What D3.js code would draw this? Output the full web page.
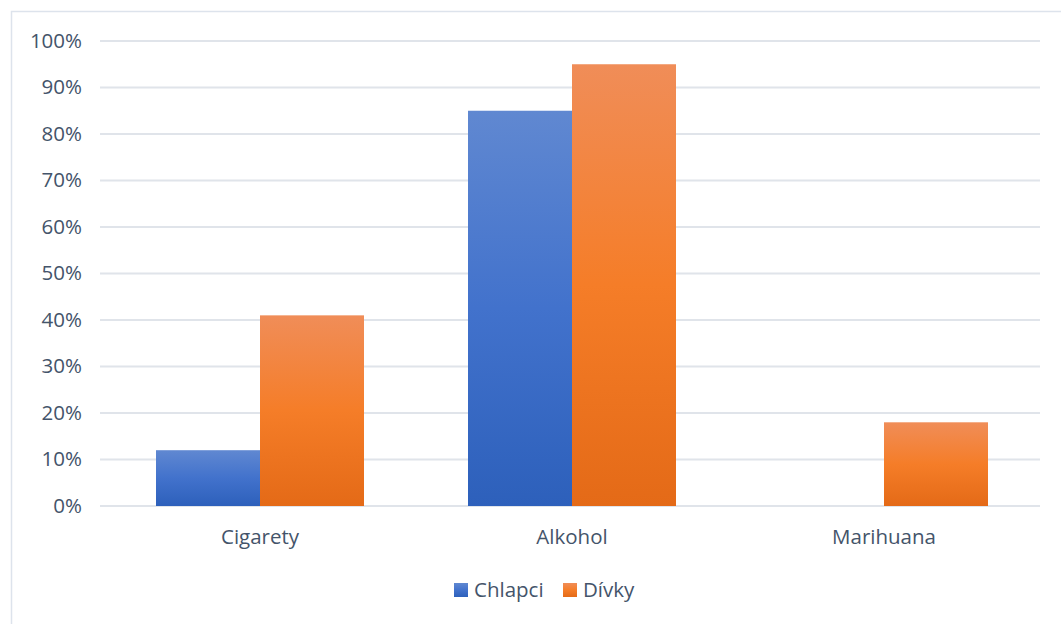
<!DOCTYPE html>
<html>
<head>
<meta charset="utf-8">
<script src="https://cdn.jsdelivr.net/npm/d3@7"></script>
<style>
  html, body { margin: 0; padding: 0; background: #fff; }
  svg { display: block; }
  text { font-family: "Open Sans", "Noto Sans", sans-serif; fill: #44546a; }
</style>
</head>
<body>
<svg id="chart" width="1061" height="624"></svg>
<script>
// Data: share of respondents by substance
const categories = ["Cigarety", "Alkohol", "Marihuana"];
const seriesNames = ["Chlapci", "Dívky"];
const chlapci = [0.12, 0.85, 0.0];
const divky = [0.41, 0.95, 0.18];
const yTicks = [0, 0.1, 0.2, 0.3, 0.4, 0.5, 0.6, 0.7, 0.8, 0.9, 1.0];

const seriesValues = [chlapci, divky];
const fontSize = 20.5;

const svg = d3.select("#chart");
const width = 1061, height = 624;
const plot = { left: 104, right: 1040, top: 41, bottom: 506 };

// Outer frame
svg.append("rect")
  .attr("x", 11.5).attr("y", 11.5)
  .attr("width", width + 20).attr("height", height + 20)
  .attr("fill", "#fff").attr("stroke", "#dde3ec").attr("stroke-width", 1.5);

// Gradients
const defs = svg.append("defs");
const gradStops = [
  [["0%", "#6088d1"], ["50%", "#4272cc"], ["100%", "#2d60bb"]],
  [["0%", "#f08d58"], ["50%", "#f57d28"], ["100%", "#e46a17"]]
];
gradStops.forEach((stops, i) => {
  const g = defs.append("linearGradient").attr("id", "grad" + i)
    .attr("x1", 0).attr("y1", 0).attr("x2", 0).attr("y2", 1);
  stops.forEach(s => g.append("stop").attr("offset", s[0]).attr("stop-color", s[1]));
});

const x0 = d3.scaleBand().domain(categories).range([plot.left, plot.right]).paddingInner(0).paddingOuter(0);
const x1 = d3.scaleBand().domain(seriesNames).range([0, x0.bandwidth()]).paddingInner(0).paddingOuter(0.5);
const y = d3.scaleLinear().domain([0, 1]).range([plot.bottom, plot.top]);

// Gridlines
svg.append("g").selectAll("line").data(yTicks).join("line")
  .attr("x1", plot.left - 4).attr("x2", plot.right)
  .attr("y1", d => y(d)).attr("y2", d => y(d))
  .attr("stroke", "#e0e4ea").attr("stroke-width", 2);

// Y axis labels
const yAxis = d3.axisLeft(y).tickValues(yTicks).tickFormat(d3.format(".0%")).tickSize(0).tickPadding(0);
const yg = svg.append("g").attr("transform", `translate(${plot.left - 22},0)`).call(yAxis);
yg.select(".domain").remove();
yg.selectAll("text").attr("font-size", fontSize).attr("dy", "0.3em").style("fill", "#44546a")
  .attr("font-family", "\"Open Sans\", sans-serif");

// Bars
const groups = svg.append("g").selectAll("g").data(categories).join("g")
  .attr("transform", d => `translate(${x0(d)},0)`);
groups.selectAll("rect")
  .data((c, ci) => seriesNames.map((s, si) => ({ s, si, v: seriesValues[si][ci] })))
  .join("rect")
  .attr("x", d => x1(d.s))
  .attr("width", x1.bandwidth())
  .attr("y", d => y(d.v))
  .attr("height", d => y(0) - y(d.v))
  .attr("fill", d => `url(#grad${d.si})`);

// X axis labels
const xAxis = d3.axisBottom(x0).tickSize(0).tickPadding(0);
const xg = svg.append("g").attr("transform", `translate(0,${plot.bottom + 23})`).call(xAxis);
xg.select(".domain").remove();
xg.selectAll("text").attr("font-size", fontSize).attr("dy", "0.71em").style("fill", "#44546a")
  .attr("font-family", "\"Open Sans\", sans-serif");

// Legend
const legendX = [454, 563];
const legend = svg.append("g").selectAll("g").data(seriesNames).join("g")
  .attr("transform", (d, i) => `translate(${legendX[i]},583)`);
legend.append("rect").attr("width", 14).attr("height", 14)
  .attr("fill", (d, i) => `url(#grad${i})`);
legend.append("text").attr("x", 20).attr("y", 7).attr("dy", "0.35em")
  .attr("font-size", fontSize).text(d => d);
</script>
</body>
</html>
